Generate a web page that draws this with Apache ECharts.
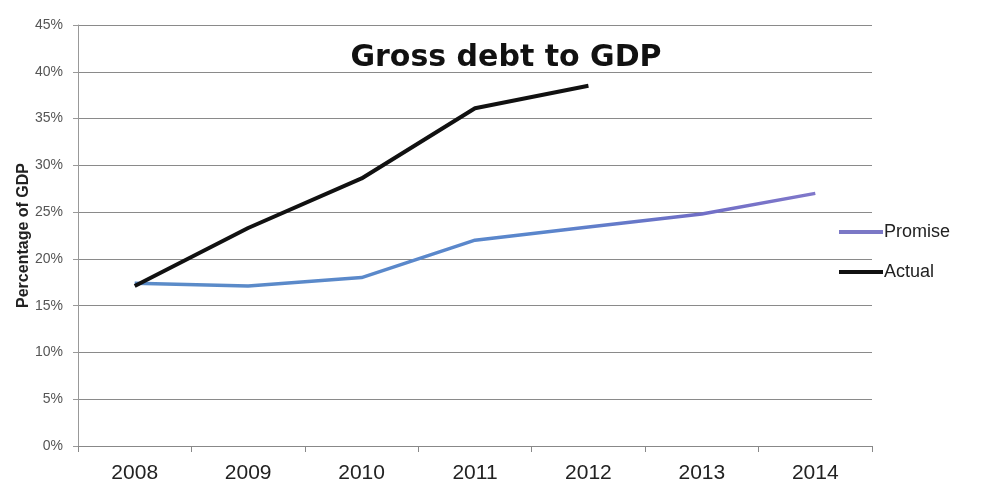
<!DOCTYPE html>
<html><head><meta charset="utf-8">
<script src="https://cdn.jsdelivr.net/npm/echarts@6/dist/echarts.min.js"></script>
<style>html,body{margin:0;padding:0;background:#fff}#c{width:983px;height:484px}</style>
</head><body><div id="c"></div>
<script>
const years = ['2008','2009','2010','2011','2012','2013','2014'];
const promise = [17.4, 17.1, 18.0, 22.0, 23.4, 24.8, 27.0];
const actual = [17.1, 23.3, 28.6, 36.1, 38.5, null, null];
const yTicks = [0, 5, 10, 15, 20, 25, 30, 35, 40, 45];

const chart = echarts.init(document.getElementById('c'));
chart.setOption({
  animation: false,
  backgroundColor: '#fff',
  title: {
    text: 'Gross debt to GDP', left: 501, top: 38, textAlign: 'center',
    textStyle: { fontFamily: 'DejaVu Sans', fontWeight: 'bold', fontSize: 30, color: '#111' }
  },
  legend: {
    orient: 'vertical', left: 834, top: 218, itemWidth: 44, itemHeight: 4, itemGap: 22,
    icon: 'rect',
    textStyle: { fontFamily: 'Liberation Sans', fontSize: 18, color: '#222', padding: [0,0,0,-4] },
    data: [{ name: 'Promise', itemStyle: { color: '#7b78c6' } }, { name: 'Actual', itemStyle: { color: '#111' } }]
  },
  grid: { left: 78, right: 111, top: 25, bottom: 37 },
  xAxis: {
    type: 'category', data: years, boundaryGap: true,
    axisLine: { lineStyle: { color: '#888' } },
    axisTick: { show: true, length: 6, lineStyle: { color: '#888' } },
    axisLabel: { fontFamily: 'Liberation Sans', fontSize: 21, color: '#222', margin: 17 }
  },
  yAxis: {
    type: 'value', min: 0, max: 45, interval: 5,
    name: 'Percentage of GDP', nameLocation: 'middle', nameGap: 46, nameRotate: 90,
    nameMoveOverlap: false,
    nameTextStyle: { fontFamily: 'Liberation Sans', fontWeight: 'bold', fontSize: 16, color: '#222' },
    axisLine: { show: true, lineStyle: { color: '#999' } },
    axisTick: { show: true, length: 5, lineStyle: { color: '#999' } },
    splitLine: { lineStyle: { color: '#8a8a8a', width: 1 } },
    axisLabel: { fontFamily: 'Liberation Sans', fontSize: 14, color: '#555', margin: 15,
      formatter: v => yTicks.includes(v) ? v + '%' : '' }
  },
  series: [
    { name: 'Promise', type: 'line', data: promise, symbol: 'none',
      lineStyle: { width: 3.5, color: new echarts.graphic.LinearGradient(0, 0, 1, 0, [
        { offset: 0, color: '#5b8cc8' }, { offset: 0.6, color: '#5a86cc' }, { offset: 0.82, color: '#6f6ec6' }, { offset: 1, color: '#8078ca' }
      ]) },
      itemStyle: { color: '#7b78c6' } },
    { name: 'Actual', type: 'line', data: actual, symbol: 'none', connectNulls: false,
      lineStyle: { width: 4, color: '#111' }, itemStyle: { color: '#111' } }
  ]
});
</script></body></html>
